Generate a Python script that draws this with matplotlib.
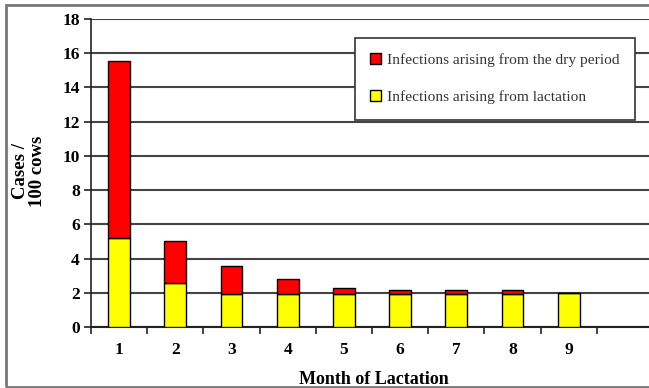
import matplotlib
matplotlib.use("Agg")
import matplotlib.pyplot as plt
from matplotlib.patches import Rectangle

months = ["1", "2", "3", "4", "5", "6", "7", "8", "9", ""]
lactation = [5.2, 2.6, 1.95, 1.95, 1.95, 1.95, 1.95, 1.95, 2.0, 0]
dry_period = [10.35, 2.4, 1.6, 0.83, 0.35, 0.2, 0.2, 0.2, 0.0, 0]
y_ticks = [0, 2, 4, 6, 8, 10, 12, 14, 16, 18]

plt.rcParams['font.family'] = ['Liberation Serif', 'DejaVu Serif']

W, H = 649, 388
fig = plt.figure(figsize=(W / 100, H / 100), dpi=100)
ax = fig.add_axes([91 / W, 61 / H, 562 / W, 308 / H])

x = list(range(1, len(months) + 1))
n = 9
xb = x[:n]
b1 = ax.bar(xb, lactation[:n], width=0.39, color="#FFFF00", edgecolor="black", linewidth=1, zorder=3)
b2 = ax.bar(xb, dry_period[:n], bottom=lactation[:n], width=0.39, color="#FF0000",
            edgecolor="black", linewidth=1, zorder=3)

ax.set_ylim(0, 18)
ax.set_xlim(0.5, 10.5)
ax.set_yticks(y_ticks)
ax.set_yticklabels([str(t) for t in y_ticks], fontsize=12.5, fontweight="bold")
ax.set_xticks(x[:n])
ax.set_xticklabels(months[:n], fontsize=12.5, fontweight="bold")
ax.set_xticks([i + 0.5 for i in range(0, 10)], minor=True)
ax.tick_params(axis="x", which="major", length=0, pad=11)
ax.tick_params(axis="x", which="minor", length=5, width=1.2, direction="out", color="#222222")
ax.tick_params(axis="y", length=5, width=1.2, direction="out", color="#222222", pad=3)

ax.yaxis.grid(True, color="#444444", linewidth=1.5, zorder=0)
ax.set_axisbelow(True)
for s in ["top", "right"]:
    ax.spines[s].set_visible(False)
ax.spines["left"].set_color("#222222")
ax.spines["left"].set_linewidth(1.2)
ax.spines["bottom"].set_color("#222222")
ax.spines["bottom"].set_linewidth(1.5)

fig.text(29 / W, 1 - 171 / H, "Cases /\n100 cows", rotation=90, ha="center", va="center",
         fontsize=13.5, fontweight="bold", multialignment="center", linespacing=1.05)
fig.text(374 / W, 1 - 380 / H, "Month of Lactation", ha="center", va="center",
         fontsize=13, fontweight="bold")

leg = ax.legend([b2, b1], ["Infections arising from the dry period", "Infections arising from lactation"],
                loc="upper left", bbox_to_anchor=(355 / W, 1 - 38 / H), bbox_transform=fig.transFigure,
                borderaxespad=0, fancybox=False, framealpha=1, edgecolor="#333333",
                fontsize=11.1, labelspacing=1.5, handlelength=0.7, handleheight=0.7,
                handletextpad=0.4, borderpad=1.0, labelcolor="#333333")
leg.get_frame().set_linewidth(1.2)
leg.set_zorder(5)

fig.patches.append(Rectangle((6 / W, 1 / H), 2, 382 / H, transform=fig.transFigure,
                             fill=False, edgecolor="#777777", linewidth=2))

fig.savefig("out.png", dpi=100)
